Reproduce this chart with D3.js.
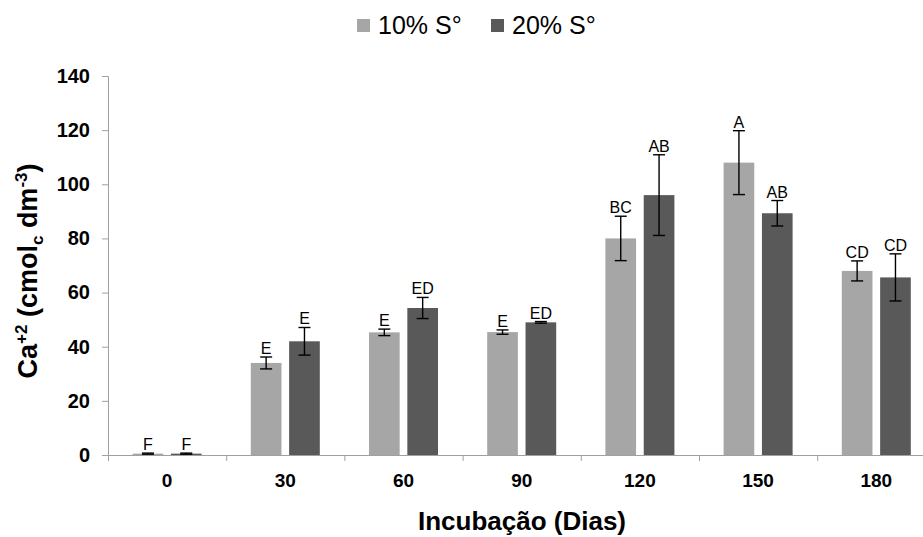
<!DOCTYPE html>
<html>
<head>
<meta charset="utf-8">
<script src="https://cdn.jsdelivr.net/npm/d3@7"></script>
<style>
  html, body { margin: 0; padding: 0; background: #fff; }
  svg { display: block; font-family: "Liberation Sans", Arial, sans-serif; }
</style>
</head>
<body>
<svg id="chart" width="923" height="537"></svg>
<script>
// Incubation days and Ca+2 means with standard errors
const days = ["0", "30", "60", "90", "120", "150", "180"];
const series = ["10% S°", "20% S°"];
const values10 = [0.5, 34, 45.3, 45.4, 80, 108, 68];
const errors10 = [0.2, 2.2, 1.2, 0.8, 8.2, 11.8, 3.7];
const values20 = [0.5, 42, 54.3, 49, 96, 89.3, 65.6];
const errors20 = [0.2, 5.1, 3.9, 0.3, 14.9, 4.7, 8.7];
const letters10 = ["F", "E", "E", "E", "BC", "A", "CD"];
const letters20 = ["F", "E", "ED", "ED", "AB", "AB", "CD"];
const yTicks = [0, 20, 40, 60, 80, 100, 120, 140];
const colors = ["#a6a6a6", "#595959"];

const svg = d3.select("#chart");
const plotLeft = 108, plotBottom = 455, plotTop = 76;
const bandW = 118.2;

const x = d3.scaleBand().domain(days).range([plotLeft, plotLeft + bandW * days.length]).padding(0);
const xSub = d3.scaleBand().domain(series).range([bandW / 2 - 34.5, bandW / 2 + 34.5]).paddingInner(0.2);
const y = d3.scaleLinear().domain([0, 140]).range([plotBottom, plotTop]);

const rows = days.map((d, i) => ({
  day: d,
  bars: [
    { s: series[0], v: values10[i], e: errors10[i], l: letters10[i], c: colors[0] },
    { s: series[1], v: values20[i], e: errors20[i], l: letters20[i], c: colors[1] }
  ]
}));

// Bars
const groups = svg.append("g").selectAll("g").data(rows).join("g")
  .attr("transform", d => `translate(${x(d.day)},0)`);

groups.selectAll("rect").data(d => d.bars).join("rect")
  .attr("x", b => xSub(b.s))
  .attr("width", xSub.bandwidth())
  .attr("y", b => y(b.v))
  .attr("height", b => Math.max(1, y(0) - y(b.v)))
  .attr("fill", b => b.c);

// Error bars
const err = groups.selectAll("g.err").data(d => d.bars).join("g").attr("class", "err")
  .attr("transform", b => `translate(${xSub(b.s) + xSub.bandwidth() / 2},0)`);
err.append("line").attr("x1", 0).attr("x2", 0)
  .attr("y1", b => y(b.v + b.e)).attr("y2", b => y(Math.max(0, b.v - b.e)))
  .attr("stroke", "#000").attr("stroke-width", 1.4);
err.append("line").attr("x1", -6).attr("x2", 6)
  .attr("y1", b => y(b.v + b.e)).attr("y2", b => y(b.v + b.e))
  .attr("stroke", "#000").attr("stroke-width", 1.4);
err.append("line").attr("x1", -6).attr("x2", 6)
  .attr("y1", b => y(Math.max(0, b.v - b.e))).attr("y2", b => y(Math.max(0, b.v - b.e)))
  .attr("stroke", "#000").attr("stroke-width", 1.4);

// Significance letters
err.append("text")
  .attr("x", 0)
  .attr("y", b => y(b.v + b.e) - 3)
  .attr("text-anchor", "middle")
  .attr("font-size", 16)
  .attr("fill", "#000")
  .text(b => b.l);

// Y axis
const yAxis = svg.append("g").attr("transform", `translate(${plotLeft},0)`)
  .call(d3.axisLeft(y).tickValues(yTicks).tickSize(6).tickPadding(12));
yAxis.select(".domain").attr("stroke", "#a0a0a0");
yAxis.selectAll(".tick line").attr("stroke", "#a0a0a0");
yAxis.selectAll(".tick text").attr("font-size", 20).attr("font-weight", "bold")
  .attr("font-family", "Liberation Sans, Arial, sans-serif").attr("fill", "#000");

// X axis: baseline with tick marks between categories
const xg = svg.append("g");
xg.append("line").attr("x1", plotLeft - 6).attr("x2", x.range()[1])
  .attr("y1", plotBottom + 0.5).attr("y2", plotBottom + 0.5).attr("stroke", "#a0a0a0");
xg.selectAll("line.sep").data(days).join("line").attr("class", "sep")
  .attr("x1", d => x(d) + 0.5).attr("x2", d => x(d) + 0.5)
  .attr("y1", plotBottom).attr("y2", plotBottom + 6).attr("stroke", "#a0a0a0");
xg.selectAll("text").data(days).join("text")
  .attr("x", d => x(d) + bandW / 2)
  .attr("y", 487)
  .attr("text-anchor", "middle")
  .attr("font-size", 19).attr("font-weight", "bold").attr("fill", "#000")
  .text(d => d);

// Axis titles
svg.append("text")
  .attr("x", 522).attr("y", 530)
  .attr("text-anchor", "middle")
  .attr("font-size", 26).attr("font-weight", "bold").attr("fill", "#000")
  .text("Incubação (Dias)");

const yt = svg.append("text")
  .attr("transform", "translate(37,271) rotate(-90)")
  .attr("text-anchor", "middle")
  .attr("font-size", 27).attr("font-weight", "bold").attr("fill", "#000");
yt.append("tspan").text("Ca");
yt.append("tspan").attr("dy", -10).attr("font-size", 17).text("+2");
yt.append("tspan").attr("dy", 10).text(" (cmol");
yt.append("tspan").attr("dy", 6).attr("font-size", 17).text("c");
yt.append("tspan").attr("dy", -6).text(" dm");
yt.append("tspan").attr("dy", -10).attr("font-size", 17).text("-3");
yt.append("tspan").attr("dy", 10).text(")");

// Legend
const legendX = [357, 491];
const lg = svg.append("g").selectAll("g").data(series).join("g")
  .attr("transform", (d, i) => `translate(${legendX[i]},19)`);
lg.append("rect").attr("width", 13).attr("height", 13).attr("fill", (d, i) => colors[i]);
lg.append("text").attr("x", 21).attr("y", 14.5)
  .attr("font-size", 25).attr("fill", "#000").text(d => d);
</script>
</body>
</html>
